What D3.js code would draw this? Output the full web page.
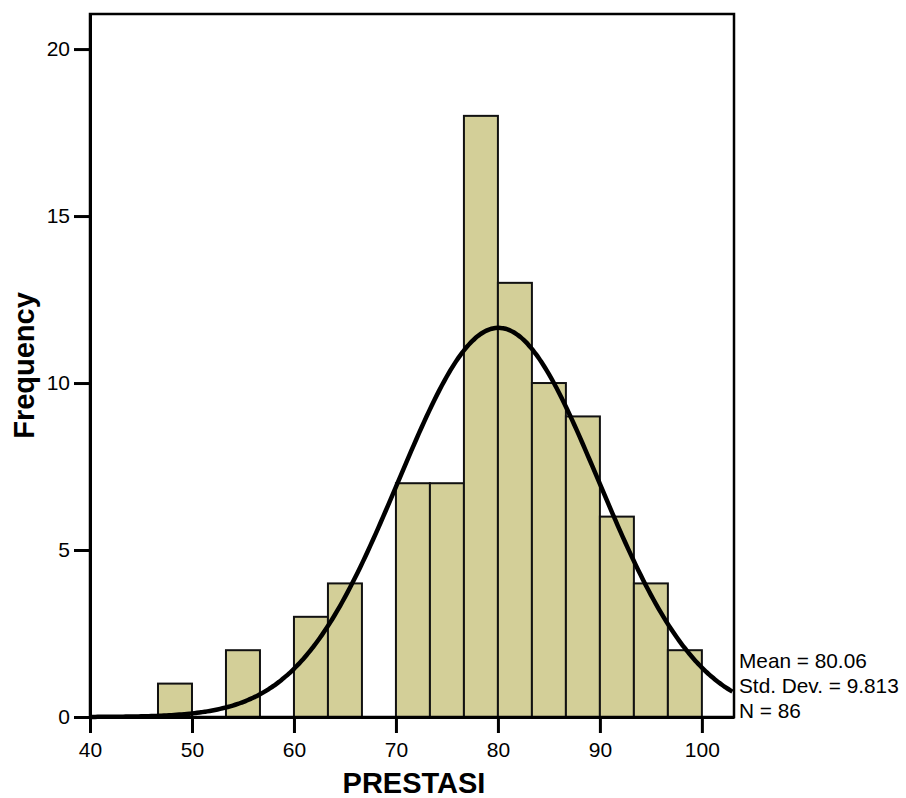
<!DOCTYPE html>
<html>
<head>
<meta charset="utf-8">
<script src="https://cdn.jsdelivr.net/npm/d3@7"></script>
<style>
  body { margin: 0; background: #fff; }
  svg { display: block; font-family: "Liberation Sans", Arial, sans-serif; }
</style>
</head>
<body>
<svg id="chart" width="906" height="798"></svg>
<script>
// histogram bins (lower edge) and counts, bin width 3.333
const binStarts = [46.667, 53.333, 60, 63.333, 70, 73.333, 76.667, 80, 83.333, 86.667, 90, 93.333, 96.667];
const counts    = [1, 2, 3, 4, 7, 7, 18, 13, 10, 9, 6, 4, 2];
const binWidth = 10 / 3;

const xTicks = [40, 50, 60, 70, 80, 90, 100];
const yTicks = [0, 5, 10, 15, 20];

// summary stats shown at right
const MEAN = 80.06, SD = 9.813, N = 86;
const statLines = ["Mean = 80.06", "Std. Dev. = 9.813", "N = 86"];

const svg = d3.select("#chart");
const plotL = 90, plotR = 734, plotT = 14, plotB = 717;

const x = d3.scaleLinear().domain([40, 103.15]).range([plotL, plotR]);
const y = d3.scaleLinear().domain([0, 21.05]).range([plotB, plotT]);

// bars
svg.append("g")
    .selectAll("rect")
    .data(binStarts.map((s, i) => ({ s: s, c: counts[i] })))
    .join("rect")
    .attr("x", d => x(d.s))
    .attr("y", d => y(d.c))
    .attr("width", d => x(d.s + binWidth) - x(d.s))
    .attr("height", d => y(0) - y(d.c))
    .style("fill", "#d3cf98")
    .style("stroke", "#111")
    .style("stroke-width", 2);

// fitted normal curve
const pdf = v => N * binWidth * Math.exp(-0.5 * ((v - MEAN) / SD) ** 2) / (SD * Math.sqrt(2 * Math.PI));
const curvePts = d3.range(40, 103.15 + 0.01, 0.25).map(v => [v, pdf(v)]);
svg.append("path")
    .datum(curvePts)
    .attr("d", d3.line().x(d => x(d[0])).y(d => y(d[1])).curve(d3.curveBasis))
    .style("fill", "none")
    .style("stroke", "#000")
    .style("stroke-width", 4.5);

// frame
svg.append("rect")
    .attr("x", plotL).attr("y", plotT)
    .attr("width", plotR - plotL).attr("height", plotB - plotT)
    .style("fill", "none")
    .style("stroke", "#000")
    .style("stroke-width", 2.5);

// axes
const yAxis = svg.append("g")
    .attr("transform", `translate(${plotL},0)`)
    .call(d3.axisLeft(y).tickValues(yTicks).tickSize(16).tickSizeOuter(0).tickPadding(4));
const xAxis = svg.append("g")
    .attr("transform", `translate(0,${plotB})`)
    .call(d3.axisBottom(x).tickValues(xTicks).tickSize(16).tickSizeOuter(0).tickPadding(9));

[yAxis, xAxis].forEach(g => {
    g.select(".domain").style("stroke", "#000").style("stroke-width", 3);
    g.selectAll(".tick line").style("stroke", "#000").style("stroke-width", 3);
    g.selectAll(".tick text")
        .style("font-family", "'Liberation Sans', Arial, sans-serif")
        .style("font-size", "21px")
        .style("fill", "#000");
});

// axis titles
svg.append("text")
    .attr("x", (plotL + plotR) / 2 + 2)
    .attr("y", 793)
    .attr("text-anchor", "middle")
    .style("font-size", "29px")
    .style("font-weight", "bold")
    .text("PRESTASI");

svg.append("text")
    .attr("transform", `translate(34,${(plotT + plotB) / 2}) rotate(-90)`)
    .attr("text-anchor", "middle")
    .style("font-size", "29px")
    .style("font-weight", "bold")
    .text("Frequency");

// stats box text
svg.append("g")
    .selectAll("text")
    .data(statLines)
    .join("text")
    .attr("x", 739)
    .attr("y", (d, i) => 668 + i * 25)
    .style("font-size", "20.8px")
    .text(d => d);
</script>
</body>
</html>
